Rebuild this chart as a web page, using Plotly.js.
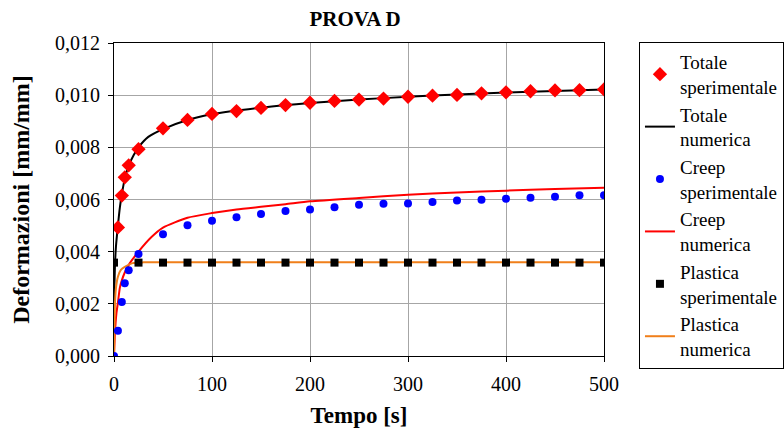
<!DOCTYPE html>
<html>
<head>
<meta charset="utf-8">
<script src="https://cdn.plot.ly/plotly-3.0.1.min.js"></script>
<style>html,body{margin:0;padding:0;background:#fff;}#chart{width:784px;height:435px;}</style>
</head>
<body>
<div id="chart"></div>
<script>
// Totale sperimentale
const tTotSper = [4, 8, 11, 15, 25, 50, 75, 100, 125, 150, 175, 200, 225, 250, 275, 300, 325, 350, 375, 400, 425, 450, 475, 500];
const totSper = [0.00493, 0.00615, 0.00685, 0.00731, 0.00793, 0.00873, 0.00905, 0.00928, 0.00939, 0.00951, 0.00962, 0.00971, 0.00978, 0.00983, 0.00987, 0.00994, 0.00998, 0.01001, 0.01007, 0.01011, 0.01015, 0.01018, 0.01019, 0.01022];
// Totale numerica
const tTotNum = [0, 1, 2, 4, 6, 8, 11, 15, 20, 25, 35, 50, 75, 100, 150, 200, 250, 300, 350, 400, 450, 500];
const totNum = [0.0021, 0.0035, 0.0042, 0.0050, 0.0057, 0.0062, 0.0068, 0.0073, 0.0077, 0.0080, 0.0084, 0.0087, 0.00905, 0.00927, 0.00952, 0.0097, 0.00983, 0.00994, 0.01003, 0.0101, 0.01016, 0.01022];
// Creep sperimentale
const tCreepSper = [0, 4, 8, 11, 15, 25, 50, 75, 100, 125, 150, 175, 200, 225, 250, 275, 300, 325, 350, 375, 400, 425, 450, 475, 500];
const creepSper = [0, 0.00097, 0.00207, 0.00279, 0.00329, 0.00391, 0.00467, 0.00501, 0.00519, 0.00532, 0.00544, 0.00556, 0.00562, 0.00570, 0.00580, 0.00584, 0.00585, 0.00590, 0.00596, 0.00599, 0.00603, 0.00607, 0.00611, 0.00616, 0.00616];
// Creep numerica
const tCreepNum = [0, 1, 2.5, 4, 6, 8, 11, 16, 25, 38, 50, 75, 100, 125, 150, 175, 200, 250, 300, 350, 400, 450, 500];
const creepNum = [0, 0.0009, 0.00164, 0.00205, 0.00262, 0.0029, 0.0032, 0.00355, 0.0040, 0.00455, 0.00492, 0.0053, 0.00548, 0.00562, 0.00572, 0.00582, 0.00593, 0.00606, 0.00618, 0.00627, 0.00634, 0.0064, 0.00645];
// Plastica sperimentale
const tPlasSper = [0, 25, 50, 75, 100, 125, 150, 175, 200, 225, 250, 275, 300, 325, 350, 375, 400, 425, 450, 475, 500];
const plasSper = [0.00358, 0.00358, 0.00358, 0.00358, 0.00358, 0.00358, 0.00358, 0.00358, 0.00358, 0.00358, 0.00358, 0.00358, 0.00358, 0.00358, 0.00358, 0.00358, 0.00358, 0.00358, 0.00358, 0.00358, 0.00358];
// Plastica numerica
const tPlasNum = [0, 1, 2, 4, 7, 11, 19, 30, 50, 100, 200, 300, 400, 500];
const plasNum = [0, 0.0020, 0.0026, 0.00304, 0.0033, 0.00342, 0.00356, 0.00359, 0.00359, 0.00359, 0.00359, 0.00359, 0.00359, 0.00359];

const names = ['Totale<br>sperimentale', 'Totale<br>numerica', 'Creep<br>sperimentale', 'Creep<br>numerica', 'Plastica<br>sperimentale', 'Plastica<br>numerica'];
const xTicks = [0, 100, 200, 300, 400, 500];
const yTicks = [0, 0.002, 0.004, 0.006, 0.008, 0.010, 0.012];

const serif = '"Liberation Serif", "Times New Roman", serif';

const traces = [
  {x: tTotNum, y: totNum, mode: 'lines', name: names[1], legendrank: 2, line: {color: '#000000', width: 2, shape: 'spline', smoothing: 0.6}},
  {x: tCreepNum, y: creepNum, mode: 'lines', name: names[3], legendrank: 4, line: {color: '#ff0000', width: 2, shape: 'spline', smoothing: 0.6}},
  {x: tPlasNum, y: plasNum, mode: 'lines', name: names[5], legendrank: 6, line: {color: '#f07f1a', width: 2, shape: 'spline', smoothing: 0.6}},
  {x: tCreepSper, y: creepSper, mode: 'markers', name: names[2], legendrank: 3, marker: {symbol: 'circle', size: 8, color: '#0000ff'}},
  {x: tPlasSper, y: plasSper, mode: 'markers', name: names[4], legendrank: 5, marker: {symbol: 'square', size: 8, color: '#000000'}},
  {x: tTotSper, y: totSper, mode: 'markers', name: names[0], legendrank: 1, marker: {symbol: 'diamond', size: 11, color: '#ff0000'}}
];

const layout = {
  width: 784, height: 435,
  margin: {l: 113.5, r: 180, t: 43, b: 79},
  paper_bgcolor: '#ffffff', plot_bgcolor: '#ffffff',
  separators: ',.',
  font: {family: serif, color: '#000000', size: 19},
  title: {text: '<b>PROVA D</b>', font: {family: serif, size: 21, color: '#000'}, x: 0.453, xref: 'container', xanchor: 'center', y: 0.958, yref: 'container', yanchor: 'middle'},
  xaxis: {
    range: [0, 500], tickvals: xTicks, ticktext: xTicks.map(String),
    showgrid: true, gridcolor: '#a6a6a6', gridwidth: 1,
    showline: true, linecolor: '#000', linewidth: 1, mirror: true,
    ticks: 'outside', ticklen: 5, tickcolor: '#000',
    zeroline: false, ticklabelstandoff: 5,
    tickfont: {family: serif, size: 20, color: '#000'},
    title: {text: '<b>Tempo [s]</b>', font: {family: serif, size: 23}, standoff: 12}
  },
  yaxis: {
    range: [0, 0.012], tickvals: yTicks, tickformat: '.3f',
    showgrid: true, gridcolor: '#a6a6a6', gridwidth: 1,
    showline: true, linecolor: '#000', linewidth: 1, mirror: true,
    ticks: 'outside', ticklen: 5, tickcolor: '#000',
    zeroline: false, ticklabelstandoff: 4,
    tickfont: {family: serif, size: 20, color: '#000'},
    title: {text: '<b>Deformazioni [mm/mm]</b>', font: {family: serif, size: 24}, standoff: 18}
  },
  showlegend: true,
  legend: {
    xref: 'container', yref: 'container',
    x: 0.815, xanchor: 'left', y: 0.9034, yanchor: 'top',
    bgcolor: '#ffffff', bordercolor: '#000000', borderwidth: 1,
    font: {family: serif, size: 19, color: '#000'},
    tracegroupgap: 0, itemwidth: 30, maxheight: 420
  }
};

Plotly.newPlot('chart', traces, layout, {displayModeBar: false, staticPlot: true});
</script>
</body>
</html>
